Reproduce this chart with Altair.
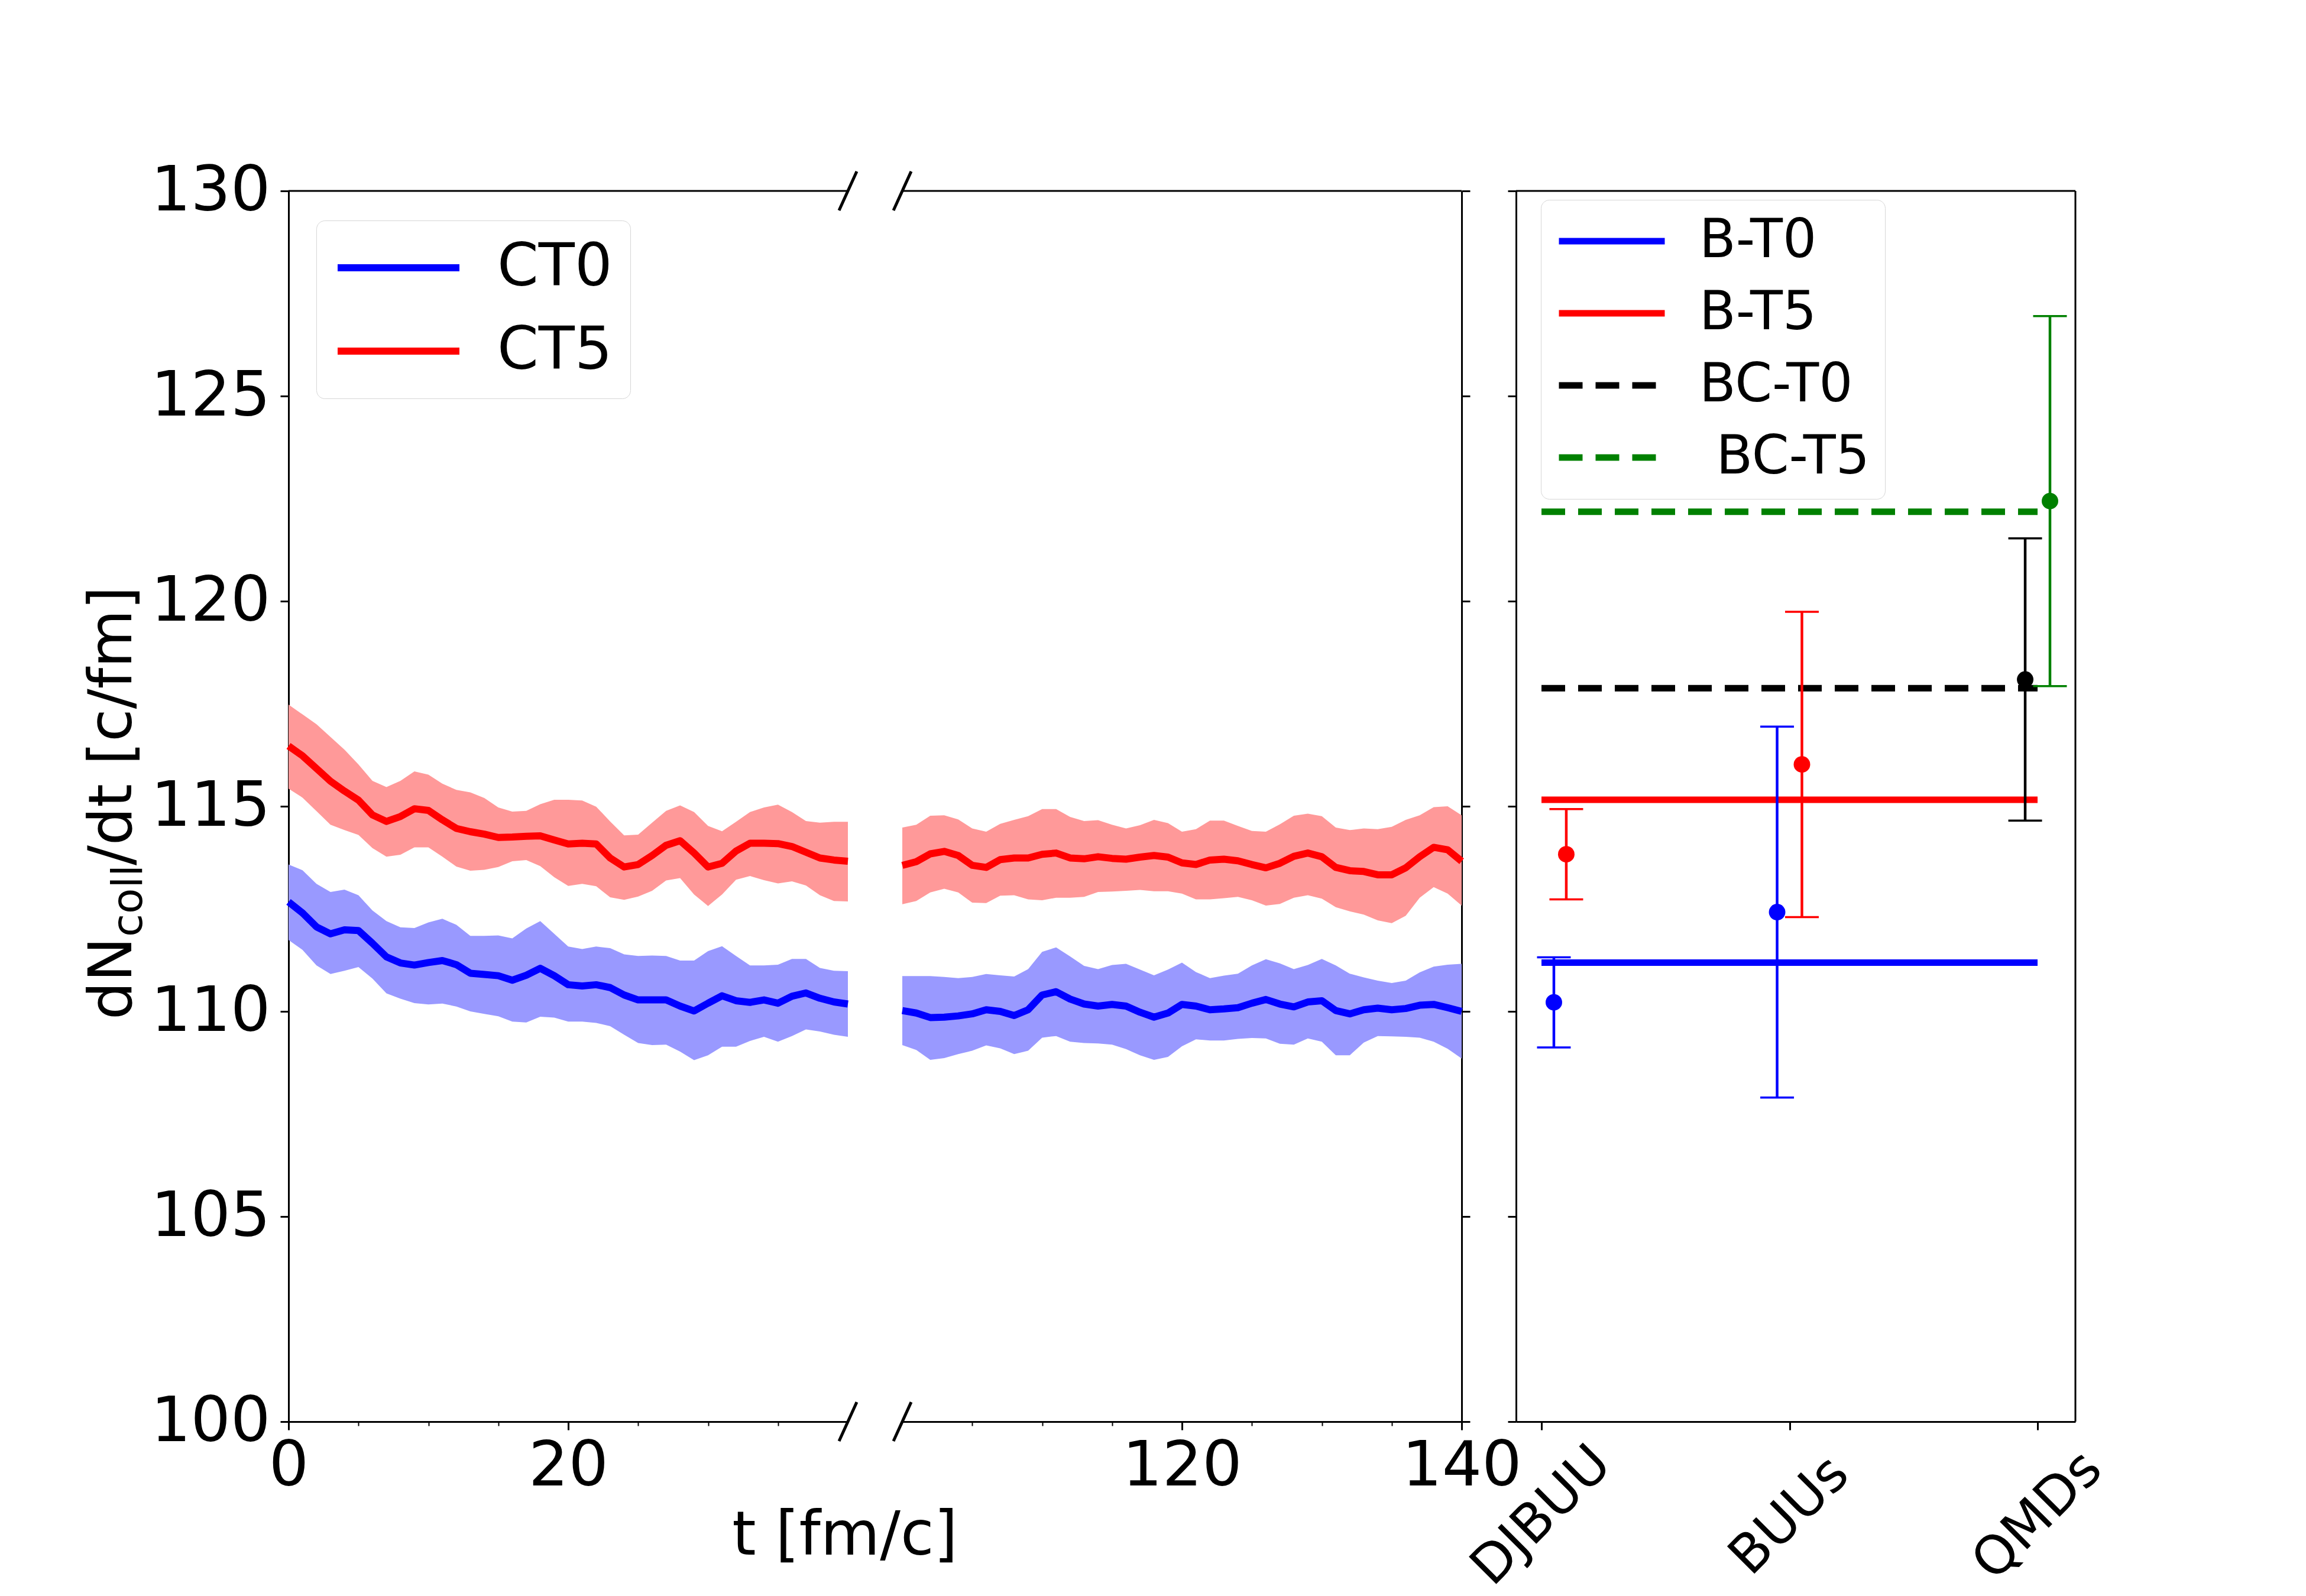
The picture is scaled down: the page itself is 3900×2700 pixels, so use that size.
import json
import pandas as pd
import altair as alt

FONT = "DejaVu Sans"

# ---------------- time-series data (left panel) ----------------
t_left = list(range(0, 41))
t_right = list(range(100, 141))

ct0_left_mean = [112.67, 112.40, 112.06, 111.89, 111.99, 111.97, 111.66, 111.33, 111.18, 111.13,
                 111.19, 111.24, 111.14, 110.93, 110.90, 110.87, 110.76, 110.88, 111.05, 110.87,
                 110.65, 110.62, 110.65, 110.58, 110.40, 110.28, 110.28, 110.28, 110.13, 110.01,
                 110.20, 110.38, 110.26, 110.22, 110.28, 110.20, 110.37, 110.45, 110.32, 110.23, 110.18]
ct0_left_hi = [113.58, 113.44, 113.11, 112.91, 112.97, 112.83, 112.46, 112.20, 112.05, 112.03,
               112.17, 112.26, 112.11, 111.84, 111.84, 111.85, 111.78, 112.02, 112.20, 111.89,
               111.58, 111.52, 111.58, 111.54, 111.39, 111.35, 111.36, 111.35, 111.24, 111.24,
               111.47, 111.59, 111.35, 111.12, 111.12, 111.14, 111.28, 111.28, 111.06, 110.99, 110.98]
ct0_left_lo = [111.74, 111.50, 111.12, 110.91, 110.99, 111.08, 110.80, 110.44, 110.31, 110.20,
               110.17, 110.19, 110.12, 110.00, 109.94, 109.88, 109.75, 109.73, 109.87, 109.85,
               109.75, 109.75, 109.72, 109.64, 109.43, 109.23, 109.18, 109.19, 109.02, 108.81,
               108.93, 109.14, 109.14, 109.28, 109.38, 109.26, 109.40, 109.56, 109.51, 109.43, 109.38]

ct5_left_mean = [116.47, 116.23, 115.92, 115.61, 115.37, 115.15, 114.79, 114.63, 114.75, 114.94,
                 114.90, 114.67, 114.46, 114.38, 114.32, 114.24, 114.25, 114.27, 114.28, 114.18,
                 114.08, 114.10, 114.08, 113.74, 113.52, 113.58, 113.80, 114.05, 114.16, 113.86,
                 113.52, 113.61, 113.91, 114.10, 114.10, 114.09, 114.02, 113.88, 113.74, 113.69, 113.66]
ct5_left_hi = [117.48, 117.24, 117.00, 116.69, 116.38, 116.02, 115.62, 115.47, 115.62, 115.85,
               115.77, 115.55, 115.40, 115.34, 115.20, 114.97, 114.87, 114.89, 115.05, 115.16,
               115.16, 115.14, 114.99, 114.63, 114.29, 114.31, 114.60, 114.89, 115.02, 114.86,
               114.52, 114.39, 114.62, 114.86, 114.97, 115.04, 114.86, 114.64, 114.60, 114.62, 114.62]
ct5_left_lo = [115.43, 115.21, 114.88, 114.55, 114.42, 114.30, 113.98, 113.77, 113.82, 114.00,
               114.00, 113.77, 113.53, 113.43, 113.45, 113.52, 113.66, 113.69, 113.54, 113.27,
               113.06, 113.11, 113.05, 112.78, 112.72, 112.80, 112.94, 113.19, 113.25, 112.85,
               112.57, 112.85, 113.21, 113.30, 113.20, 113.12, 113.17, 113.07, 112.83, 112.69, 112.68]

ct0_right_mean = [110.02, 109.96, 109.85, 109.86, 109.89, 109.94, 110.04, 110.00, 109.90, 110.04,
                  110.40, 110.48, 110.30, 110.18, 110.13, 110.17, 110.13, 109.98, 109.86, 109.96,
                  110.17, 110.13, 110.04, 110.06, 110.09, 110.20, 110.29, 110.18, 110.11, 110.23,
                  110.26, 110.02, 109.94, 110.04, 110.08, 110.04, 110.07, 110.15, 110.17, 110.09, 110.00]
ct0_right_hi = [110.86, 110.86, 110.86, 110.84, 110.81, 110.84, 110.91, 110.88, 110.85, 111.03,
                111.45, 111.56, 111.34, 111.11, 111.03, 111.13, 111.16, 111.02, 110.88, 111.02,
                111.19, 110.96, 110.81, 110.87, 110.92, 111.12, 111.27, 111.17, 111.03, 111.13,
                111.28, 111.12, 110.92, 110.83, 110.75, 110.69, 110.75, 110.95, 111.09, 111.14, 111.16]
ct0_right_lo = [109.18, 109.06, 108.82, 108.86, 108.96, 109.04, 109.17, 109.10, 108.96, 109.04,
                109.36, 109.40, 109.26, 109.23, 109.22, 109.19, 109.08, 108.93, 108.82, 108.89,
                109.15, 109.32, 109.29, 109.29, 109.33, 109.35, 109.34, 109.21, 109.19, 109.34,
                109.26, 108.93, 108.93, 109.24, 109.40, 109.39, 109.38, 109.36, 109.26, 109.09, 108.85]

ct5_right_mean = [113.56, 113.65, 113.84, 113.90, 113.80, 113.56, 113.51, 113.70, 113.74, 113.74,
                  113.83, 113.86, 113.74, 113.72, 113.77, 113.73, 113.71, 113.76, 113.80, 113.76,
                  113.62, 113.58, 113.69, 113.71, 113.67, 113.58, 113.50, 113.61, 113.78, 113.86,
                  113.77, 113.51, 113.43, 113.41, 113.33, 113.33, 113.50, 113.77, 114.00, 113.94, 113.66]
ct5_right_hi = [114.48, 114.55, 114.77, 114.78, 114.68, 114.46, 114.38, 114.57, 114.67, 114.76,
                114.93, 114.93, 114.74, 114.64, 114.66, 114.55, 114.46, 114.54, 114.67, 114.59,
                114.38, 114.44, 114.65, 114.65, 114.52, 114.40, 114.38, 114.56, 114.77, 114.82,
                114.76, 114.48, 114.42, 114.46, 114.44, 114.50, 114.67, 114.78, 114.98, 115.00, 114.78]
ct5_right_lo = [112.61, 112.69, 112.90, 112.99, 112.90, 112.65, 112.64, 112.82, 112.83, 112.73,
                112.71, 112.77, 112.77, 112.79, 112.91, 112.92, 112.94, 112.96, 112.93, 112.93,
                112.87, 112.73, 112.73, 112.76, 112.79, 112.71, 112.58, 112.62, 112.77, 112.83,
                112.75, 112.54, 112.44, 112.36, 112.22, 112.15, 112.33, 112.77, 113.03, 112.87, 112.58]

series_names = ["CT0", "CT5"]
series_colors = ["#0000ff", "#ff0000"]
BAND_ALPHA = 0.4

# ---------------- model comparison data (right panel) ----------------
models = ["DJBUU", "BUUs", "QMDs"]
# the last label has a leading space in the original legend (kept visible with a zero-width mark)
model_series = ["B-T0", "B-T5", "BC-T0", "\u200b\u00a0BC-T5"]
model_colors = ["#0000ff", "#ff0000", "#000000", "#008000"]
model_dash = [[1, 0], [1, 0], [40, 22], [40, 22]]
avg_values = [111.19, 115.16, 117.88, 122.18]

pt_series_idx = [0, 1, 0, 1, 2, 3]
pt_model = [0, 0, 1, 1, 2, 2]
pt_shift = [0.05, 0.10, -0.05, 0.05, -0.05, 0.05]
pt_value = [110.22, 113.83, 112.42, 116.02, 118.09, 122.44]
pt_err = [1.10, 1.10, 4.52, 3.72, 3.44, 4.51]


def blend_on_white(hexcol, alpha):
    r, g, b = (int(hexcol[i:i + 2], 16) for i in (1, 3, 5))
    mix = lambda c: round(alpha * c + (1 - alpha) * 255)
    return "#{:02x}{:02x}{:02x}".format(mix(r), mix(g), mix(b))


band_of = {n: blend_on_white(c, BAND_ALPHA) for n, c in zip(series_names, series_colors)}
line_of = dict(zip(series_names, series_colors))

# ---------------- build tables ----------------
rows = []
for name, tl, m, lo, hi in [
    ("CT0", t_left, ct0_left_mean, ct0_left_lo, ct0_left_hi),
    ("CT5", t_left, ct5_left_mean, ct5_left_lo, ct5_left_hi),
    ("CT0", t_right, ct0_right_mean, ct0_right_lo, ct0_right_hi),
    ("CT5", t_right, ct5_right_mean, ct5_right_lo, ct5_right_hi),
]:
    for t, a, b, c in zip(tl, m, lo, hi):
        rows.append({"t": t, "series": name, "color": line_of[name], "band": band_of[name],
                     "mean": a, "lo": b, "hi": c})
ts = pd.DataFrame(rows)
ts_left = ts[ts.t <= 40]
ts_right = ts[ts.t >= 100]

pts = pd.DataFrame({
    "series": [model_series[i] for i in pt_series_idx],
    "x": [m + s for m, s in zip(pt_model, pt_shift)],
    "value": pt_value,
    "lo": [v - e for v, e in zip(pt_value, pt_err)],
    "hi": [v + e for v, e in zip(pt_value, pt_err)],
    "color": [model_colors[i] for i in pt_series_idx],
})
avg = pd.DataFrame({"series": model_series, "avg": avg_values,
                    "x0": [0] * len(model_series), "x1": [len(models) - 1] * len(model_series)})

xmin, xmax = 0.0, float(pts.x.max())
marg = 0.05 * (xmax - xmin)
model_domain = [xmin - marg, xmax + marg]

one = pd.DataFrame({"_": [0]})

W, H = 946, 2082
y_scale = alt.Scale(domain=[100, 130], nice=False, zero=False)
y_values = [100, 105, 110, 115, 120, 125, 130]

major_test = "datum.value % 20 === 0"


def x_axis(values):
    return alt.Axis(values=values, title=None, grid=False, format="d",
                    labelExpr=f"{major_test} ? datum.label : ''",
                    tickSize={"condition": {"test": major_test, "value": 14}, "value": 7},
                    tickWidth={"condition": {"test": major_test, "value": 3}, "value": 2},
                    labelFontSize=106, labelFont=FONT, labelPadding=9, labelFlush=False,
                    labelOverlap=False, labelLimit=0, domainWidth=3, tickColor="black",
                    domainColor="black", labelColor="black")


def y_axis(orient, labels):
    return alt.Axis(values=y_values, orient=orient, title=None, grid=False, labels=labels,
                    format="d", tickSize=14, tickWidth=3, labelFontSize=106, labelFont=FONT,
                    labelPadding=17, labelFlush=False, labelOverlap=False, labelLimit=0,
                    domainWidth=3, tickColor="black", domainColor="black", labelColor="black")


def break_marks(xval):
    out = []
    for yv in (130, 100):
        out.append(alt.Chart(one).mark_rule(color="black", strokeWidth=5, opacity=1, xOffset=15,
                                            x2Offset=-15, yOffset=-33, y2Offset=33).encode(
            x=alt.datum(xval), x2=alt.datum(xval), y=alt.datum(yv), y2=alt.datum(yv)))
    return out


def segment(data, domain, xvals, yorient, ylabels, legend_line, brk):
    xs = alt.Scale(domain=domain, nice=False, zero=False)
    band = alt.Chart(data).mark_area(opacity=1).encode(
        x=alt.X("t:Q", scale=xs, axis=x_axis(xvals)),
        y=alt.Y("lo:Q", scale=y_scale, axis=y_axis(yorient, ylabels)),
        y2="hi:Q",
        fill=alt.Fill("band:N", scale=None),
        detail="series:N",
    )
    if legend_line:
        col = alt.Color("series:N", scale=alt.Scale(domain=series_names, range=series_colors),
                        legend=alt.Legend(orient="none", legendX=47, legendY=50, title=None,
                                          symbolType="stroke", symbolSize=206 ** 2,
                                          symbolStrokeWidth=12, symbolOpacity=1, clipHeight=100,
                                          rowPadding=41, padding=30, labelFontSize=100,
                                          labelFont=FONT, labelLimit=0, labelOffset=58,
                                          cornerRadius=14, strokeColor="#d6d6d6",
                                          fillColor="rgba(255,255,255,0.8)", labelColor="black"))
    else:
        col = alt.Color("color:N", scale=None)
    line = alt.Chart(data).mark_line(strokeWidth=12, strokeJoin="round", opacity=1).encode(
        x="t:Q", y="mean:Q", color=col, detail="series:N")
    spine = alt.Chart(one).mark_rule(color="black", strokeWidth=3, opacity=1).encode(
        y=alt.datum(130))
    return [band, line, spine] + break_marks(brk)


left_layers = segment(ts_left, [0, 40], [0, 5, 10, 15, 20, 25, 30, 35], "left", True, True, 40)

# axis titles as text (y-title has a subscript)
YB = -266
ytitle = [
    alt.Chart(one).mark_text(text="dN", angle=270, align="left", baseline="alphabetic",
                             fontSize=101, font=FONT, color="black").encode(
        x=alt.value(YB), y=alt.value(1402)),
    alt.Chart(one).mark_text(text="coll", angle=270, align="left", baseline="alphabetic",
                             fontSize=71, font=FONT, color="black").encode(
        x=alt.value(YB + 18), y=alt.value(1262)),
    alt.Chart(one).mark_text(text="/dt [c/fm]", angle=270, align="left", baseline="alphabetic",
                             fontSize=101, font=FONT, color="black").encode(
        x=alt.value(YB), y=alt.value(1141)),
]
xtitle = alt.Chart(one).mark_text(text="t [fm/c]", align="center", baseline="alphabetic",
                                  fontSize=103, font=FONT, color="black").encode(
    x=alt.value(941), y=alt.value(2307))

left_chart = alt.layer(*left_layers, *ytitle, xtitle).properties(width=W, height=H)

right_layers = segment(ts_right, [100, 140], [105, 110, 115, 120, 125, 130, 135, 140], "right",
                       False, False, 100)
right_chart = alt.layer(*right_layers).properties(width=W, height=H)

# model panel
mx = alt.Scale(domain=model_domain, nice=False, zero=False)
label_js = json.dumps(models)
model_axis = alt.Axis(values=list(range(len(models))), title=None, grid=False,
                      labelExpr=f"{label_js}[datum.value]", labelAngle=315, labelAlign="center",
                      labelBaseline="middle", labelPadding=145, tickSize=14, tickWidth=3,
                      labelFontSize=90, labelFont=FONT, labelFlush=False, labelOverlap=False,
                      labelBound=False, labelLimit=0, domainWidth=3, tickColor="black",
                      domainColor="black", labelColor="black")
leg = alt.Legend(orient="none", legendX=42, legendY=15, title=None, symbolType="stroke",
                 symbolSize=179 ** 2, symbolStrokeWidth=11, symbolOpacity=1, clipHeight=90,
                 rowPadding=32, padding=25, labelFontSize=90, labelFont=FONT, labelLimit=0,
                 labelOffset=53, cornerRadius=14, strokeColor="#d6d6d6",
                 fillColor="rgba(255,255,255,0.8)", labelColor="black")
hlines = alt.Chart(avg).mark_rule(strokeWidth=11, opacity=1).encode(
    x=alt.X("x0:Q", scale=mx, axis=model_axis),
    x2="x1:Q",
    y=alt.Y("avg:Q", scale=y_scale, axis=y_axis("left", False)),
    color=alt.Color("series:N", scale=alt.Scale(domain=model_series, range=model_colors), legend=leg),
    strokeDash=alt.StrokeDash("series:N", scale=alt.Scale(domain=model_series, range=model_dash),
                              legend=leg),
)
ebars = alt.Chart(pts).mark_rule(strokeWidth=4.5, opacity=1).encode(
    x="x:Q", y="lo:Q", y2="hi:Q", color=alt.Color("color:N", scale=None))
caps_lo = alt.Chart(pts).mark_tick(orient="horizontal", size=57, thickness=3.5, opacity=1).encode(
    x="x:Q", y="lo:Q", color=alt.Color("color:N", scale=None))
caps_hi = alt.Chart(pts).mark_tick(orient="horizontal", size=57, thickness=3.5, opacity=1).encode(
    x="x:Q", y="hi:Q", color=alt.Color("color:N", scale=None))
dots = alt.Chart(pts).mark_circle(size=780, opacity=1).encode(
    x="x:Q", y="value:Q", color=alt.Color("color:N", scale=None))
top_sp = alt.Chart(one).mark_rule(color="black", strokeWidth=3, opacity=1).encode(y=alt.datum(130))
right_sp = alt.Chart(one).mark_rule(color="black", strokeWidth=3, opacity=1).encode(
    x=alt.datum(model_domain[1]))

model_chart = alt.layer(hlines, ebars, caps_lo, caps_hi, dots, top_sp, right_sp).properties(
    width=W, height=H)

chart = alt.hconcat(left_chart, right_chart, model_chart, spacing=92, bounds="flush").resolve_scale(
    color="independent", strokeDash="independent"
).properties(
    padding={"left": 133, "top": 262, "right": 20, "bottom": 10},
    background="white",
).configure_view(stroke=None)

chart.save("out.html", embed_options={"renderer": "svg", "actions": False})
